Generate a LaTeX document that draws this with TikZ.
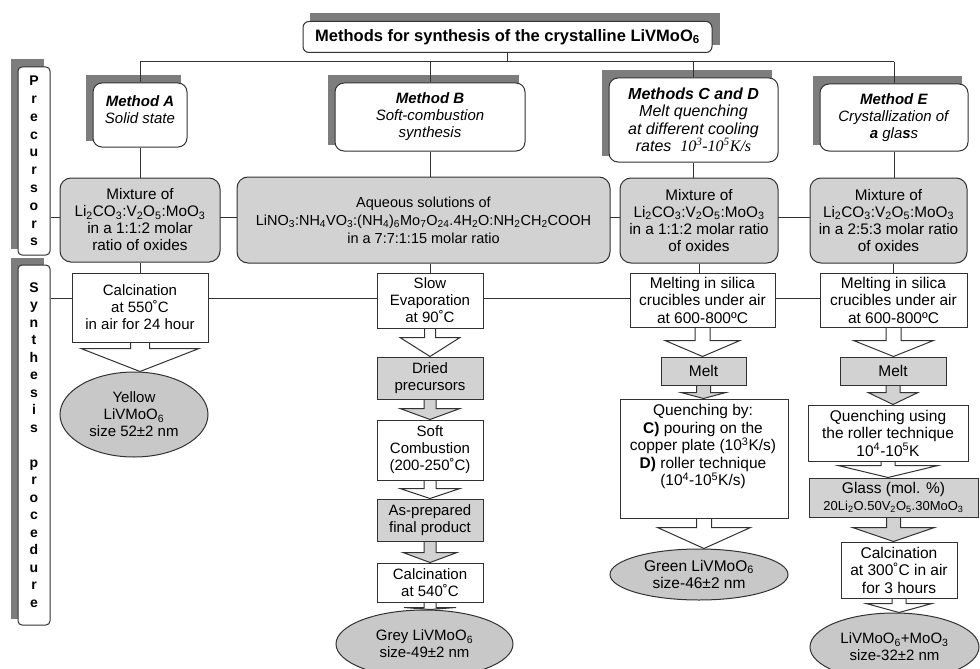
\documentclass[tikz,border=0pt]{standalone}
\usepackage{fontspec}
\setmainfont{Liberation Sans}
\newfontfamily\tms{Liberation Serif}
\usetikzlibrary{calc,shapes.geometric}
\pgfdeclarelayer{background}
\pgfsetlayers{background,main}
\definecolor{ln}{RGB}{50,50,50}
\definecolor{shd}{RGB}{125,125,125}
\definecolor{gf}{RGB}{210,210,210}
\definecolor{ef}{RGB}{200,200,200}
\newcommand\ssb[1]{\textsubscript{#1}}
\newcommand\ssp[1]{\textsuperscript{#1}}
\newcommand\farrow[6]{%
  \path[draw=ln,line width=1pt,fill=#1] let \p1=(#2.south), \p2=(#3.north) in
   (\x1-#4pt,\y1) -- (\x1-#4pt,\y1-#6pt) -- (\x1-#5pt,\y1-#6pt) -- (\x1,\y2)
   -- (\x1+#5pt,\y1-#6pt) -- (\x1+#4pt,\y1-#6pt) -- (\x1+#4pt,\y1);}
\tikzset{
  base/.style={draw=ln, line width=1pt, align=center, inner sep=0pt,
    font=\fontsize{15}{17}\selectfont},
  big/.style={font=\fontsize{15.5}{17.5}\selectfont},
  wbox/.style={base, fill=white},
  gbox/.style={base, fill=gf},
  mbox/.style={base, fill=white, rounded corners=9pt},
  rbox/.style={base, fill=gf, rounded corners=11pt, font=\fontsize{15.3}{17}\selectfont},
  ell/.style={base, fill=ef, ellipse},
  side/.style={base, fill=white, rounded corners=4pt},
  conn/.style={draw=ln, line width=1pt},
  shadow/.style={fill=shd}
}
\begin{document}
\begin{tikzpicture}[x=1pt,y=-1pt]
\useasboundingbox (0,0) rectangle (980,669);
\coordinate (h1) at (0,62);
\coordinate (h2) at (0,217);
\coordinate (h3) at (0,298);
% title
\node[mbox, rounded corners=6pt, minimum width=409, minimum height=31, font=\bfseries\fontsize{16.5}{18}\selectfont] (title) at (507.5,37) {Methods for synthesis of the crystalline LiVMoO\ssb{6}};
% side boxes
\node[side, minimum width=32, minimum height=188, font=\bfseries\fontsize{14}{17.8}\selectfont] (sideP) at (34,161) {P\\r\\e\\c\\u\\r\\s\\o\\r\\s};
\node[side, minimum width=32, minimum height=360, font=\bfseries\fontsize{14}{17.5}\selectfont] (sideS) at (34,445) {S\\y\\n\\t\\h\\e\\s\\i\\s\\[17.5pt]p\\r\\o\\c\\e\\d\\u\\r\\e};
% method boxes
\node[mbox, minimum width=94, minimum height=64] (mA) at (140,115) {\textbf{\textit{Method A}}\\\textit{Solid state}\\[-7pt]};
\node[mbox, minimum width=190, minimum height=68] (mB) at (430,117) {\textbf{\textit{Method B}}\\\textit{Soft-combustion}\\\textit{synthesis}};
\node[mbox, minimum width=169, minimum height=84, font=\fontsize{16}{17.5}\selectfont] (mC) at (693.5,120) {\textbf{\textit{Methods C and D}}\\\textit{Melt quenching}\\\textit{at different cooling}\\\textit{rates}\ \ {\tms\itshape 10\ssp{3}-10\ssp{5}K/s}};
\node[mbox, minimum width=148, minimum height=67] (mE) at (894,117.5) {\textbf{\textit{Method E}}\\\textit{Crystallization of}\\\textbf{\textit{a}} \textit{gla\textbf{s}s}};
% mixtures
\node[rbox, minimum width=160, minimum height=84] (xA) at (140,220) {Mixture of\\Li\ssb2CO\ssb3:V\ssb2O\ssb5:MoO\ssb3\\in a 1:1:2 molar\\ratio of oxides};
\node[rbox, minimum width=373, minimum height=86, font=\fontsize{14.5}{18}\selectfont] (xB) at (423.5,220) {Aqueous solutions of\\LiNO\ssb3:NH\ssb4VO\ssb3:(NH\ssb4)\ssb6Mo\ssb7O\ssb{24}.4H\ssb2O:NH\ssb2CH\ssb2COOH\\in a 7:7:1:15 molar ratio};
\node[rbox, minimum width=158, minimum height=85] (xC) at (699,220.5) {Mixture of\\Li\ssb2CO\ssb3:V\ssb2O\ssb5:MoO\ssb3\\in a 1:1:2 molar ratio\\of oxides};
\node[rbox, minimum width=157, minimum height=85] (xE) at (888.5,220.5) {Mixture of\\Li\ssb2CO\ssb3:V\ssb2O\ssb5:MoO\ssb3\\in a 2:5:3 molar ratio\\of oxides};
% column A
\node[wbox, minimum width=136, minimum height=69] (calcA) at (140,307.5) {Calcination\\at 550˚C\\in air for 24 hour};
\node[ell, minimum width=148, minimum height=85] (ellA) at (134,414.5) {Yellow\\LiVMoO\ssb6\\size 52±2 nm};
% column B
\node[wbox, minimum width=106, minimum height=55] (slow) at (430,300.5) {Slow\\Evaporation\\at 90˚C};
\node[gbox, minimum width=106, minimum height=42] (dried) at (430,378) {Dried\\precursors};
\node[wbox, minimum width=106, minimum height=60] (soft) at (430,450) {Soft\\Combustion\\(200-250˚C)};
\node[gbox, minimum width=106, minimum height=42] (asp) at (430,520) {As-prepared\\final product};
\node[wbox, minimum width=106, minimum height=39] (calcB) at (430,582.5) {Calcination\\at 540˚C};
\node[ell, minimum width=177, minimum height=68] (ellB) at (424.5,644) {Grey LiVMoO\ssb6\\size-49±2 nm};
% column C
\node[wbox, big, minimum width=145, minimum height=54] (meltingC) at (702.5,300) {Melting in silica\\crucibles under air\\at 600-800ºC};
\node[gbox, big, minimum width=85, minimum height=28] (meltC) at (703.5,371) {Melt};
\node[wbox, minimum width=168, minimum height=119] (qC) at (704,458.5) {};
\node[base, big, draw=none, anchor=north] (qCt) at (703,404) {Quenching by:\\\textbf{C)} pouring on the\\copper plate (10\ssp{3}K/s)\\\textbf{D)} roller technique\\(10\ssp{4}-10\ssp{5}K/s)};
\node[ell, big, minimum width=178, minimum height=51] (ellC) at (699,574.5) {Green LiVMoO\ssb6\\size-46±2 nm};
% column E
\node[wbox, big, minimum width=147, minimum height=54] (meltingE) at (893.5,300) {Melting in silica\\crucibles under air\\at 600-800ºC};
\node[gbox, big, minimum width=106, minimum height=28] (meltE) at (893,371) {Melt};
\node[wbox, big, minimum width=160, minimum height=56] (qE) at (888,433) {Quenching using\\the roller technique\\10\ssp{4}-10\ssp{5}K};
\node[gbox, big, minimum width=169, minimum height=39] (glass) at (893.5,497.5) {Glass (mol. \%)\\{\fontsize{13}{14}\selectfont 20Li\ssb2O.50V\ssb2O\ssb5.30MoO\ssb3}};
\node[wbox, big, minimum width=116, minimum height=56] (calcE) at (899,570) {Calcination\\at 300˚C in air\\for 3 hours};
\node[ell, minimum width=169, minimum height=68] (ellE) at (894.5,647) {LiVMoO\ssb6+MoO\ssb3\\size-32±2 nm};

\begin{pgfonlayer}{background}
% shadows
\fill[shadow] ([shift={(7,-8)}]title.south west) rectangle ([shift={(7,-8)}]title.north east);
\foreach \n in {sideP,sideS,mA,mB,mC,mE}
  \fill[shadow] ([shift={(-7,-7)}]\n.south west) rectangle ([shift={(-7,-7)}]\n.north east);
% connectors
\draw[conn] (title.south) -- (title.south |- h1);
\draw[conn] (mA.north |- h1) -- (mE.north |- h1);
\foreach \n in {mA,mB,mC,mE} \draw[conn] (\n.north |- h1) -- (\n.north);
\draw[conn] (mA.south) -- (mA.south |- xA.north);
\draw[conn] (mB.south) -- (mB.south |- xB.north);
\draw[conn] (mC.south) -- (mC.south |- xC.north);
\draw[conn] (mE.south) -- (mE.south |- xE.north);
\draw[conn] (sideP.east |- h2) -- (xE.west |- h2);
\draw[conn] (sideS.east |- h3) -- (meltingE.west |- h3);
\draw[conn] (xA.south) -- (xA.south |- calcA.north);
\draw[conn] (slow.north |- xB.south) -- (slow.north);
\draw[conn] (xC.south) -- (xC.south |- meltingC.north);
\draw[conn] (meltingE.north |- xE.south) -- (meltingE.north);
% block arrows
\farrow{white}{calcA}{ellA}{9.5}{59}{6}
\farrow{white}{slow}{dried}{5.5}{30}{9}
\farrow{gf}{dried}{soft}{6}{30}{9}
\farrow{white}{soft}{asp}{6}{30}{8}
\farrow{gf}{asp}{calcB}{6}{27}{11}
\farrow{white}{calcB}{ellB}{6}{26}{5}
\farrow{white}{meltingC}{meltC}{7.5}{37.5}{13}
\farrow{gf}{meltC}{qC}{7}{22.5}{7}
\farrow{white}{qC}{ellC}{7.5}{46.5}{9}
\farrow{white}{meltingE}{meltE}{7.5}{40}{13}
\farrow{gf}{meltE}{qE}{7}{25}{7}
\farrow{white}{qE}{glass}{7}{50}{4}
\farrow{gf}{glass}{calcE}{7}{41}{10}
\farrow{white}{calcE}{ellE}{7}{33}{5}
\end{pgfonlayer}
\end{tikzpicture}
\end{document}
